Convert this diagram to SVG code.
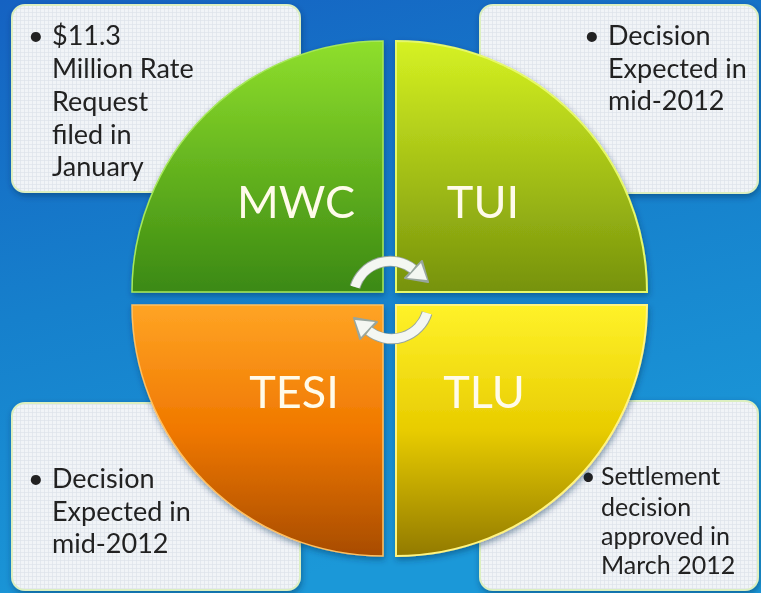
<svg xmlns="http://www.w3.org/2000/svg" width="761" height="593" viewBox="0 0 761 593">
<style>
.box{fill:url(#gridp);stroke:#dcefc0;stroke-width:2}
.bt{font-family:Lato,"Open Sans","Liberation Sans",sans-serif;font-size:27px;fill:#222222}
.lbl{font-family:Lato,"Open Sans","Liberation Sans",sans-serif;font-size:45px;fill:#fffbea}
.arc{fill:none;stroke:#f4f7f2;stroke-width:9}
.arcedge{fill:none;stroke:#98a69e;stroke-width:11}
</style>
<defs>
<linearGradient id="bg" x1="0" y1="0" x2="0.3" y2="1">
<stop offset="0" stop-color="#1562c2"/>
<stop offset="0.5" stop-color="#1680cc"/>
<stop offset="1" stop-color="#1b98d8"/>
</linearGradient>
<pattern id="gridp" width="4" height="4" patternUnits="userSpaceOnUse">
<rect width="4" height="4" fill="#f1f4f7"/>
<path d="M0 0.5H4M0.5 0V4" stroke="#dde3ea" stroke-width="0.7"/>
</pattern>
<linearGradient id="gMWC" x1="0" y1="0" x2="0" y2="1">
<stop offset="0" stop-color="#8fdf2c"/>
<stop offset="1" stop-color="#3b8912"/>
</linearGradient>
<linearGradient id="gTUI" x1="0" y1="0" x2="0" y2="1">
<stop offset="0" stop-color="#d6f222"/>
<stop offset="1" stop-color="#76920c"/>
</linearGradient>
<linearGradient id="gTESI" x1="0" y1="0" x2="0" y2="1">
<stop offset="0" stop-color="#ffa424"/>
<stop offset="0.5" stop-color="#f07800"/>
<stop offset="1" stop-color="#a84c00"/>
</linearGradient>
<linearGradient id="gTLU" x1="0" y1="0" x2="0" y2="1">
<stop offset="0" stop-color="#fff22a"/>
<stop offset="0.5" stop-color="#e8cc00"/>
<stop offset="1" stop-color="#927a00"/>
</linearGradient>
<filter id="sh" x="-10%" y="-10%" width="120%" height="120%">
<feDropShadow dx="1" dy="3" stdDeviation="3" flood-color="#002a55" flood-opacity="0.45"/>
</filter>
<g id="arrow">
<path class="arcedge" d="M 355 287 A 37 37 0 0 1 413 269"/>
<polygon points="428,282 422,261 405,278" fill="#98a69e" stroke="#98a69e" stroke-width="2" stroke-linejoin="round"/>
<path class="arc" d="M 355 287 A 37 37 0 0 1 413 269"/>
<polygon points="427,280 421,263 407,278" fill="#f4f7f2"/>
</g>
</defs>
<rect width="761" height="593" fill="url(#bg)"/>
<g id="box-mwc" filter="url(#sh)">
<rect class="box" x="12" y="5" width="288" height="187" rx="13"/>
<text class="bt" x="28" y="45">•</text>
<text class="bt" x="52" y="45">$11.3</text>
<text class="bt" x="52" y="78">Million Rate</text>
<text class="bt" x="52" y="111">Request</text>
<text class="bt" x="52" y="144">filed in</text>
<text class="bt" x="52" y="176">January</text>
</g>
<g id="box-tui" filter="url(#sh)">
<rect class="box" x="480" y="5" width="278" height="188" rx="13"/>
<text class="bt" x="584" y="45">•</text>
<text class="bt" x="608" y="45">Decision</text>
<text class="bt" x="608" y="78">Expected in</text>
<text class="bt" x="608" y="110">mid-2012</text>
</g>
<g id="box-tesi" filter="url(#sh)">
<rect class="box" x="12" y="403" width="288" height="187" rx="13"/>
<text class="bt" x="28" y="488">•</text>
<text class="bt" x="52" y="488">Decision</text>
<text class="bt" x="52" y="521">Expected in</text>
<text class="bt" x="52" y="553">mid-2012</text>
</g>
<g id="box-tlu" filter="url(#sh)">
<rect class="box" x="480" y="401" width="278" height="189" rx="13"/>
<text class="bt" x="581" y="485" style="font-size:25px">•</text>
<text class="bt" x="601" y="485" style="font-size:25px">Settlement</text>
<text class="bt" x="601" y="516" style="font-size:25px">decision</text>
<text class="bt" x="601" y="545" style="font-size:25px">approved in</text>
<text class="bt" x="601" y="574" style="font-size:25px">March 2012</text>
</g>
<g id="q-mwc" filter="url(#sh)">
<path d="M 383 292 L 132 292 A 251 251 0 0 1 383 41 Z" fill="url(#gMWC)" stroke="#a6e85a" stroke-width="1.5"/>
<text class="lbl" x="296" y="218" text-anchor="middle">MWC</text>
</g>
<g id="q-tui" filter="url(#sh)">
<path d="M 396 292 L 396 41 A 251 251 0 0 1 647 292 Z" fill="url(#gTUI)" stroke="#e6f86a" stroke-width="2"/>
<text class="lbl" x="483" y="218" text-anchor="middle">TUI</text>
</g>
<g id="q-tesi" filter="url(#sh)">
<path d="M 383 305 L 383 556 A 251 251 0 0 1 132 305 Z" fill="url(#gTESI)" stroke="#ffc060" stroke-width="1.5"/>
<text class="lbl" x="294" y="408" text-anchor="middle">TESI</text>
</g>
<g id="q-tlu" filter="url(#sh)">
<path d="M 396 305 L 647 305 A 251 251 0 0 1 396 556 Z" fill="url(#gTLU)" stroke="#fff480" stroke-width="2"/>
<text class="lbl" x="484" y="408" text-anchor="middle">TLU</text>
</g>
<g id="connectors">
<use href="#arrow"/>
<use href="#arrow" transform="rotate(180 391 300)"/>
</g>
</svg>
